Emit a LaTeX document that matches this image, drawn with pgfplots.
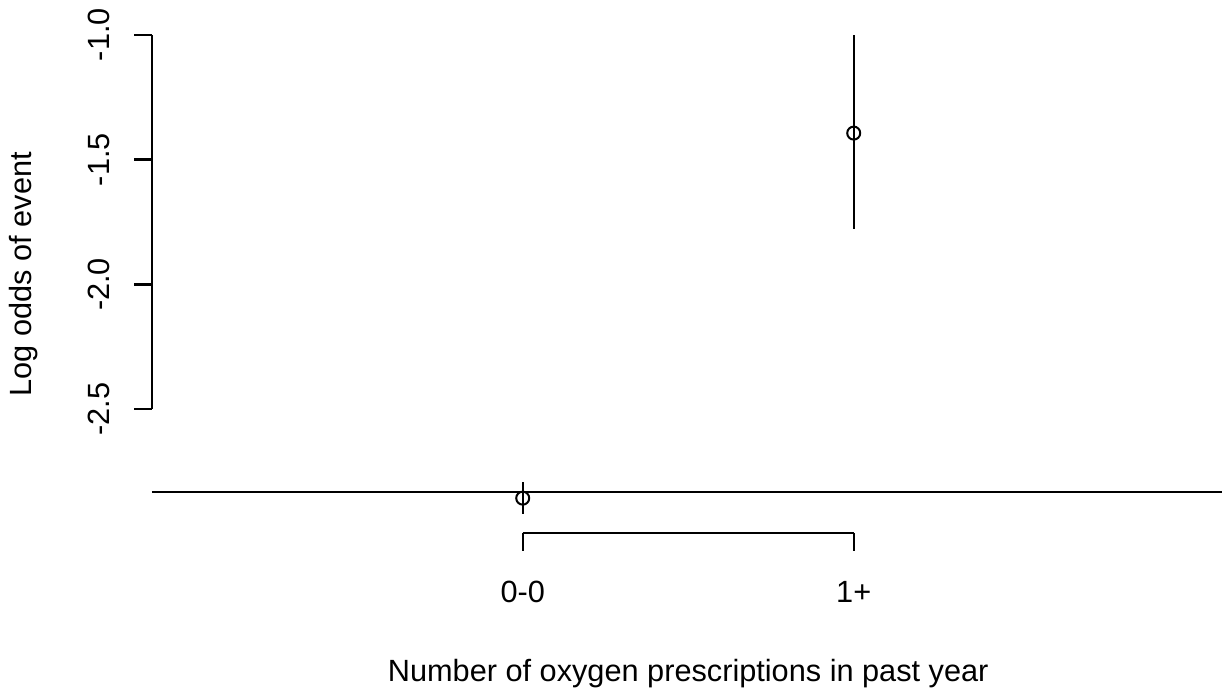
\documentclass[border=0pt]{standalone}
\usepackage{fontspec}
\setmainfont{Liberation Sans}
\usepackage{pgfplots}
\pgfplotsset{compat=1.18}
\begin{document}
\begin{tikzpicture}
\useasboundingbox (-152pt,-158.8pt) rectangle (1070pt,533.1pt);
\begin{axis}[
  scale only axis,
  width=1072.4pt, height=517.6pt,
  xmin=-0.12, xmax=3.12,
  ymin=-2.996, ymax=-0.923,
  clip=false,
  axis line style={draw=none},
  tick style={draw=none},
  major tick length=0pt,
  xtick={1,2}, xticklabels={0-0,1+},
  ytick={-2.5,-2,-1.5,-1}, yticklabels={-2.5,-2.0,-1.5,-1.0},
  every tick label/.append style={font=\fontsize{30.7}{36.8}\selectfont},
  xticklabel style={anchor=base, yshift=-69.8pt},
  yticklabel style={rotate=90, anchor=base, yshift=42pt},
  xlabel={Number of oxygen prescriptions in past year},
  ylabel={Log odds of event},
  label style={font=\fontsize{30.7}{36.8}\selectfont},
  xlabel style={at={(rel axis cs:0.5,0)}, anchor=base, yshift=-148.5pt},
  ylabel style={at={(rel axis cs:0,0.5)}, anchor=base, yshift=120pt},
]
% reference line
\addplot[black, line width=2.3pt, no marks] coordinates {(-0.12,-2.831) (3.12,-2.831)};
% estimates with intervals
\addplot[black, only marks, mark=o, mark size=6.5pt, mark options={line width=2pt},
  error bars/.cd, y dir=both, y explicit, error mark=none,
  error bar style={line width=2.3pt}]
  coordinates {
    (1,-2.856) += (0,0.066) -= (0,0.063)
    (2,-1.394) += (0,0.394) -= (0,0.384)
  };
% y axis
\draw[line width=2.3pt] (axis cs:-0.12,-2.5) -- (axis cs:-0.12,-1.0);
\draw[line width=2.3pt] (axis cs:-0.12,-2.5) -- ++(-18pt,0pt);
\draw[line width=2.3pt] (axis cs:-0.12,-2.0) -- ++(-18pt,0pt);
\draw[line width=2.3pt] (axis cs:-0.12,-1.5) -- ++(-18pt,0pt);
\draw[line width=2.3pt] (axis cs:-0.12,-1.0) -- ++(-18pt,0pt);
% x axis
\draw[line width=2.3pt] (axis cs:1,-2.996) -- (axis cs:2,-2.996);
\draw[line width=2.3pt] (axis cs:1,-2.996) -- ++(0pt,-18pt);
\draw[line width=2.3pt] (axis cs:2,-2.996) -- ++(0pt,-18pt);
\end{axis}
\end{tikzpicture}
\end{document}
